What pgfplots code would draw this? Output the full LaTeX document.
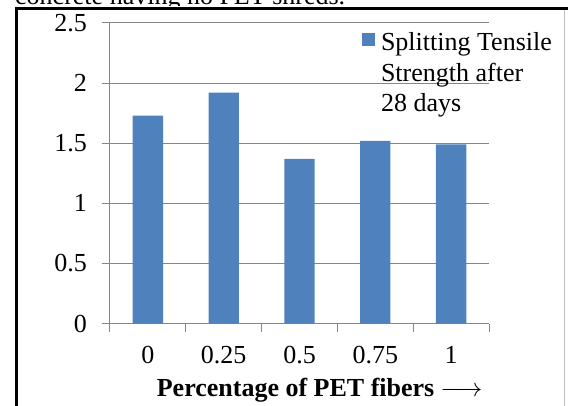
\documentclass[border=0pt]{standalone}
\usepackage{pgfplots}
\pgfplotsset{compat=1.18}
\usepackage{graphicx}
\usepackage{fontspec}
\setmainfont{Liberation Serif}
\definecolor{barblue}{HTML}{4F81BD}
\definecolor{gridgray}{HTML}{868686}
\newcommand{\bigfont}{\fontsize{26bp}{30.5bp}\selectfont}
\begin{document}
\begin{tikzpicture}[font=\bigfont]
\useasboundingbox (0,0) rectangle (568bp,406bp);
\begin{scope}
\clip (0,0) rectangle (568bp,406bp);
\node[anchor=base west, inner sep=0pt] at (15bp,401.5bp) {concrete having no PET shreds.};
\end{scope}
\fill[white] (15bp,396bp) rectangle (568bp,400bp);
\draw[line width=3bp] (16.5bp,0) -- (16.5bp,397.5bp);
\draw[line width=3bp] (15bp,397.5bp) -- (568bp,397.5bp);
\draw[gray!50, line width=1bp] (564bp,0) -- (564bp,396bp);
\begin{axis}[
  at={(110bp,82.5bp)}, anchor=south west,
  scale only axis, width=379bp, height=300.5bp,
  xmin=-0.5, xmax=4.5, ymin=0, ymax=2.5,
  xtick={0,1,2,3,4}, xticklabels={0,0.25,0.5,0.75,1},
  minor xtick={-0.5,0.5,1.5,2.5,3.5,4.5},
  ytick={0,0.5,1,1.5,2,2.5},
  /pgf/number format/assume math mode=true,
  axis x line*=bottom, axis y line*=left,
  axis line style={draw=gridgray, line width=1bp, -},
  ymajorgrids, grid style={gridgray, line width=1bp},
  tick align=outside,
  major tick length=8bp, minor tick length=8bp,
  major x tick style={draw=none},
  minor x tick style={draw=gridgray, line width=1bp},
  major y tick style={draw=gridgray, line width=1bp},
  tick label style={font=\bigfont},
  yticklabel style={anchor=east, inner sep=0pt, xshift=-15bp},
  xticklabel style={anchor=north, inner sep=0pt, yshift=-15bp},
  xlabel={\textbf{Percentage of PET fibers}\hspace{6bp}\resizebox{42bp}{!}{$\longrightarrow$}},
  xlabel style={at={(axis description cs:0.553,0)}, anchor=base, yshift=-72.5bp, inner sep=0pt, font=\bigfont},
  legend style={at={(axis description cs:0.665,0.978)}, anchor=north west,
    draw=none, fill=none, inner sep=0pt, outer sep=0pt, column sep=6bp,
    font=\bigfont, nodes={inner sep=0pt}},
  legend cell align=left,
  legend image code/.code={\fill[barblue] (0bp,-5bp) rectangle (13bp,8bp);},
]
\addplot[ybar, bar width=0.4, fill=barblue, draw=none] coordinates {
  (0,1.73) (1,1.92) (2,1.37) (3,1.52) (4,1.49)};
\addlegendentry{\begin{tabular}[t]{@{}l@{}}Splitting Tensile\\Strength after\\28 days\end{tabular}}
\end{axis}
\end{tikzpicture}
\end{document}
